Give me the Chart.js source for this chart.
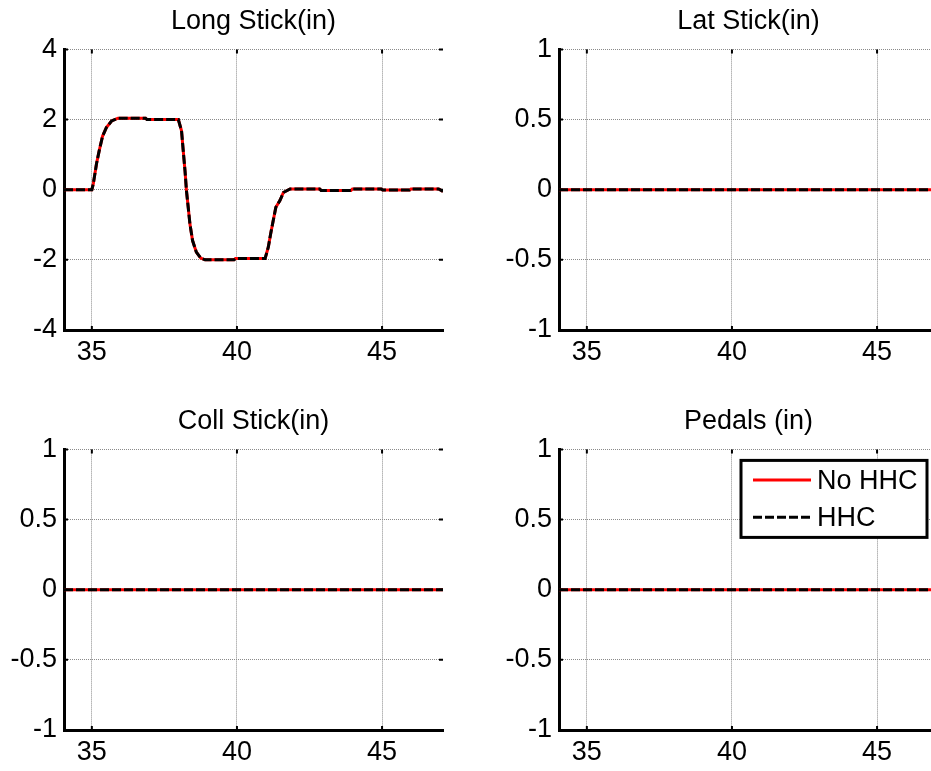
<!DOCTYPE html>
<html><head><meta charset="utf-8">
<script src="https://cdn.jsdelivr.net/npm/chart.js@4.4.0/dist/chart.umd.min.js"></script>
<style>
html,body{margin:0;padding:0;background:#fff;overflow:hidden;width:931px;height:771px;}
canvas.c{position:absolute;}
</style></head><body>
<canvas id="c1" class="c" width="460" height="380" style="left:0px;top:0px"></canvas>
<canvas id="c2" class="c" width="460" height="380" style="left:495px;top:0px"></canvas>
<canvas id="c3" class="c" width="460" height="380" style="left:0px;top:400px"></canvas>
<canvas id="c4" class="c" width="460" height="380" style="left:495px;top:400px"></canvas>
<script>
// ---- data ----
const titles = ['Long Stick(in)', 'Lat Stick(in)', 'Coll Stick(in)', 'Pedals (in)'];
const seriesNames = ['No HHC', 'HHC'];
const xTicks = [35, 40, 45];
const yTicksLong = [-4, -2, 0, 2, 4];
const yTicksUnit = [-1, -0.5, 0, 0.5, 1];

const timeLong = [34.04, 35.0, 35.05, 35.16, 35.25, 35.37, 35.5, 35.68, 35.9, 36.85, 36.9, 37.98, 38.09, 38.15, 38.21, 38.26, 38.32, 38.38, 38.47, 38.6, 38.75, 38.9, 39.9, 39.95, 40.97, 41.08, 41.16, 41.25, 41.34, 41.48, 41.6, 41.83, 42.85, 42.9, 43.93, 43.98, 44.97, 45.02, 45.95, 46.0, 46.95, 47.1];
const longNoHHC = [0, 0, 0.17, 0.74, 1.1, 1.53, 1.77, 1.96, 2.04, 2.04, 2.0, 2.0, 1.68, 1.1, 0.54, -0.03, -0.5, -0.98, -1.45, -1.78, -1.95, -2.0, -2.0, -1.96, -1.96, -1.64, -1.26, -0.88, -0.5, -0.31, -0.08, 0.02, 0.02, -0.02, -0.02, 0.02, 0.02, -0.01, -0.01, 0.02, 0.02, -0.05];
const longHHC  = [0, 0, 0.17, 0.74, 1.1, 1.53, 1.77, 1.96, 2.04, 2.04, 2.0, 2.0, 1.68, 1.1, 0.54, -0.03, -0.5, -0.98, -1.45, -1.78, -1.95, -2.0, -2.0, -1.96, -1.96, -1.64, -1.26, -0.88, -0.5, -0.31, -0.08, 0.02, 0.02, -0.02, -0.02, 0.02, 0.02, -0.01, -0.01, 0.02, 0.02, -0.05];

const timeFlat = [34.04, 47.1];
const latNoHHC = [0, 0];
const latHHC = [0, 0];
const collNoHHC = [0, 0];
const collHHC = [0, 0];
const pedNoHHC = [0, 0];
const pedHHC = [0, 0];

// ---- styling / helpers ----
const FONT = 'Liberation Sans, Arial, Helvetica, sans-serif';
const FS = 27;

const tickMarks = {
  id: 'tickMarks',
  afterDraw(chart) {
    const {ctx, chartArea: ca, scales: {x, y}} = chart;
    ctx.save();
    ctx.strokeStyle = '#000';
    ctx.lineWidth = 2;
    ctx.beginPath();
    x.ticks.forEach(t => {
      const px = x.getPixelForValue(t.value);
      ctx.moveTo(px, ca.bottom); ctx.lineTo(px, ca.bottom - 4);
      ctx.moveTo(px, ca.top); ctx.lineTo(px, ca.top + 4);
    });
    y.ticks.forEach(t => {
      const py = y.getPixelForValue(t.value);
      ctx.moveTo(ca.left, py); ctx.lineTo(ca.left + 4, py);
      ctx.moveTo(ca.right, py); ctx.lineTo(ca.right - 4, py);
    });
    ctx.stroke();
    ctx.restore();
  }
};

const boxLegend = {
  id: 'boxLegend',
  afterDraw(chart, args, opts) {
    if (!opts || !opts.show) return;
    const {ctx, chartArea: ca} = chart;
    const w = 186, h = 77;
    const left = ca.right - 11 - w, top = ca.top + 11;
    ctx.save();
    ctx.fillStyle = '#fff';
    ctx.fillRect(left, top, w, h);
    ctx.lineWidth = 3;
    ctx.strokeStyle = '#000';
    ctx.setLineDash([]);
    ctx.strokeRect(left, top, w, h);
    chart.data.datasets.forEach((ds, i) => {
      const ly = top + 19.5 + i * 37.4;
      ctx.beginPath();
      ctx.lineWidth = ds.borderWidth;
      ctx.strokeStyle = ds.borderColor;
      ctx.setLineDash(ds.borderDash || []);
      ctx.moveTo(left + 12, ly);
      ctx.lineTo(left + 70, ly);
      ctx.stroke();
      ctx.setLineDash([]);
      ctx.fillStyle = '#000';
      ctx.font = FS + 'px ' + FONT;
      ctx.textBaseline = 'middle';
      ctx.textAlign = 'left';
      ctx.fillText(ds.label, left + 76, ly + 1.5);
    });
    ctx.restore();
  }
};

function makeChart(id, title, time, noHHC, hhc, yTicks, showLegend) {
  const tickFont = {family: FONT, size: FS};
  return new Chart(document.getElementById(id), {
    type: 'line',
    data: {
      datasets: [
        {label: seriesNames[0], data: time.map((t, i) => ({x: t, y: noHHC[i]})),
         borderColor: '#ff0000', borderWidth: 3, pointRadius: 0, tension: 0, order: 1, fill: false},
        {label: seriesNames[1], data: time.map((t, i) => ({x: t, y: hhc[i]})),
         borderColor: '#000000', borderWidth: 3, borderDash: [9, 3], pointRadius: 0, tension: 0, order: 0, fill: false}
      ]
    },
    options: {
      responsive: false,
      animation: false,
      events: [],
      layout: {padding: {left: 0, right: 17, top: 0, bottom: 0}},
      scales: {
        x: {
          type: 'linear', min: 34.04, max: 47.1,
          afterBuildTicks: s => { s.ticks = xTicks.map(v => ({value: v})); },
          afterFit: s => { s.height = 50; },
          ticks: {font: tickFont, color: '#000', padding: 6, autoSkip: false, maxRotation: 0, callback: v => String(v)},
          grid: {color: '#8a8a8a', lineWidth: 1, drawTicks: false},
          border: {display: true, color: '#000', width: 3, dash: [1, 1]}
        },
        y: {
          type: 'linear', min: yTicks[0], max: yTicks[yTicks.length - 1],
          afterBuildTicks: s => { s.ticks = yTicks.map(v => ({value: v})); },
          afterFit: s => { s.width = 64; },
          ticks: {font: tickFont, color: '#000', padding: 7, callback: v => String(v)},
          grid: {color: '#8a8a8a', lineWidth: 1, drawTicks: false},
          border: {display: true, color: '#000', width: 3, dash: [1, 1]}
        }
      },
      plugins: {
        legend: {display: false},
        tooltip: {enabled: false},
        title: {display: true, text: title, fullSize: false, color: '#000',
                font: {family: FONT, size: FS, weight: 'normal'}, padding: {top: 5, bottom: 12}},
        boxLegend: {show: showLegend}
      }
    },
    plugins: [tickMarks, boxLegend]
  });
}

makeChart('c1', titles[0], timeLong, longNoHHC, longHHC, yTicksLong, false);
makeChart('c2', titles[1], timeFlat, latNoHHC, latHHC, yTicksUnit, false);
makeChart('c3', titles[2], timeFlat, collNoHHC, collHHC, yTicksUnit, false);
makeChart('c4', titles[3], timeFlat, pedNoHHC, pedHHC, yTicksUnit, true);
</script>
</body></html>
